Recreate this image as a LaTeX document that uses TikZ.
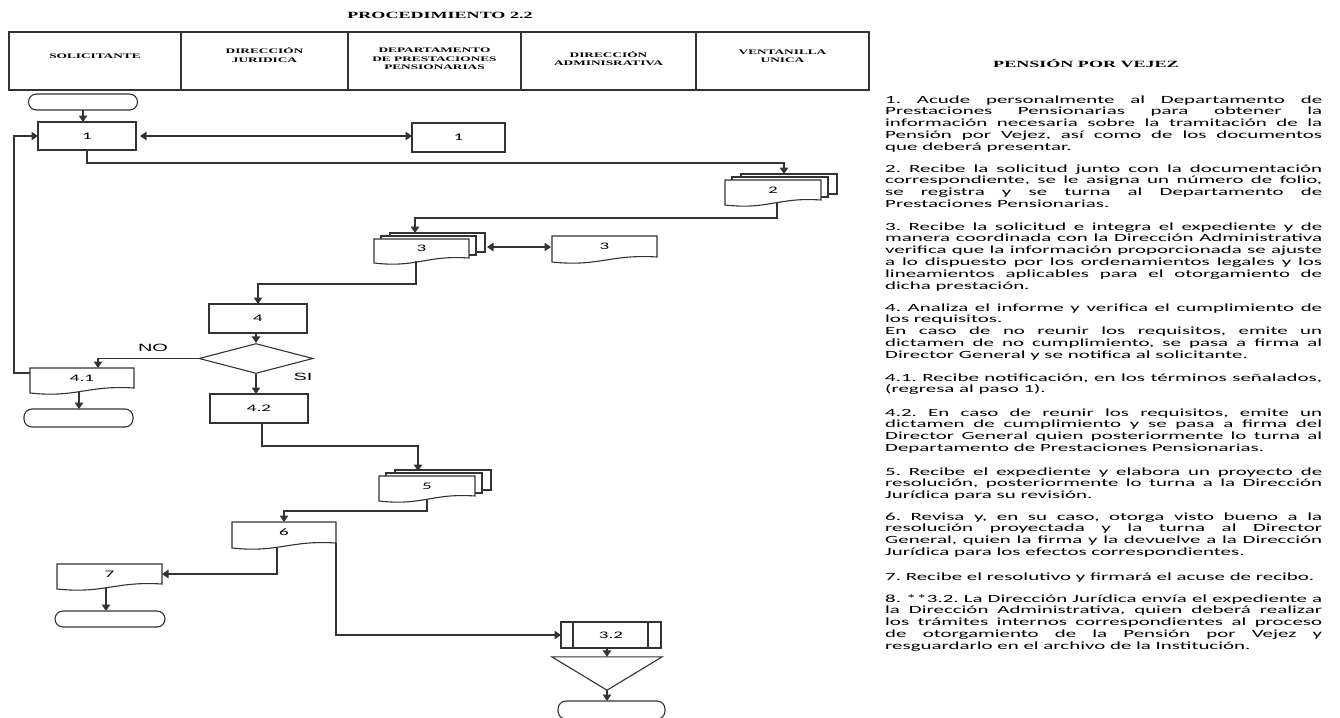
\documentclass[tikz,border=0pt]{standalone}
\usepackage{fontspec}
\usepackage{graphicx}
\usetikzlibrary{arrows.meta,calc,shapes.geometric}
\newfontfamily\calfont{Carlito}
\newfontfamily\tnr{Liberation Serif}
\newfontfamily\arl{Liberation Sans}
\frenchspacing
\newcommand\sx[1]{\scalebox{1.9}[1]{#1}}
\newcommand\J[1]{\makebox[230pt][s]{#1}\\}
\newcommand\para[1]{\sx{\parbox[t]{230pt}{\calfont\fontsize{11}{11.8}\selectfont\frenchspacing #1}}}
\newcommand\hdr[1]{\sx{\tnr\bfseries\fontsize{7}{8.5}\selectfont\begin{tabular}{@{}c@{}}#1\end{tabular}}}
\definecolor{lc}{HTML}{333333}
\pgfdeclarelayer{bg}
\pgfsetlayers{bg,main}
\newcommand\drawdoc[1]{\draw[shp] (#1.south east) -- (#1.north east) -- (#1.north west) -- ($(#1.south west)+(0,5)$) .. controls ($(#1.south west)!0.45!(#1.south east)+(0,10)$) and ($(#1.south west)!0.55!(#1.south east)+(0,-3)$) .. (#1.south east) -- cycle;}
\newcommand\drawmulti[1]{\draw[shp] ($(#1.north west)+(16,-6)$) rectangle ($(#1.south east)+(16,-6)$);
\draw[shp] ($(#1.north west)+(7,-3)$) rectangle ($(#1.south east)+(7,-3)$);
\drawdoc{#1}}
\begin{document}
\begin{tikzpicture}[x=1pt,y=-1pt,
  shp/.style={draw=lc,line width=1.1pt,fill=white},
  conn/.style={draw=lc,line width=1.1pt},
  arr/.style={-{Triangle[length=6.5pt,width=8.5pt]}},
  darr/.style={{Triangle[length=6.5pt,width=8.5pt]}-{Triangle[length=6.5pt,width=8.5pt]}},
  fn/.style={inner sep=0,outer sep=0,font=\calfont\fontsize{10}{12}\selectfont},
  rbox/.style={fn,draw=lc,line width=1.1pt},
  dbox/.style={fn},
  term/.style={inner sep=0,outer sep=0,draw=lc,line width=1.1pt,rounded corners=8pt},
  cell/.style={draw=lc,line width=1.4pt,inner sep=0,minimum height=58},
  desc/.style={inner sep=0,anchor=base west},
  lbl/.style={inner sep=0,font=\arl\fontsize{10.5}{12}\selectfont}]
\useasboundingbox (0,0) rectangle (1340,717);

% title and header
\node[inner sep=0] (title) at (440,15) {\sx{\tnr\bfseries\fontsize{9.5}{11}\selectfont PROCEDIMIENTO 2.2}};
\node[cell,minimum width=172] (h1) at (95,61) {};
\node[cell,minimum width=167] (h2) at (264.5,61) {};
\node[cell,minimum width=173] (h3) at (434.5,61) {};
\node[cell,minimum width=175] (h4) at (608.5,61) {};
\node[cell,minimum width=173] (h5) at (782.5,61) {};
\node[inner sep=0] (t1) at (95,57) {\hdr{SOLICITANTE}};
\node[inner sep=0] (t2) at (264.5,56.5) {\hdr{DIRECCIÓN\\JURIDICA}};
\node[inner sep=0] (t3) at (434.5,59.5) {\hdr{DEPARTAMENTO\\DE PRESTACIONES\\PENSIONARIAS}};
\node[inner sep=0] (t4) at (608.5,60) {\hdr{DIRECCIÓN\\ADMINISRATIVA}};
\node[inner sep=0] (t5) at (782.5,57) {\hdr{VENTANILLA\\UNICA}};

% flowchart nodes
\node[term,minimum width=109,minimum height=16] (start) at (83,102) {};
\node[rbox,minimum width=98,minimum height=28] (box1) at (87,136) {\sx{1}};
\node[rbox,minimum width=93,minimum height=29] (box1b) at (458.5,137.5) {\sx{1}};
\node[dbox,minimum width=96,minimum height=20] (doc2) at (773,190) {\sx{2}};
\node[dbox,minimum width=95,minimum height=19] (doc3) at (421.5,248.5) {\sx{3}};
\node[dbox,minimum width=105,minimum height=21] (doc3b) at (604.5,246.5) {\sx{3}};
\node[rbox,minimum width=98,minimum height=29] (box4) at (258,318.5) {\sx{4}};
\node[shape=diamond,draw=lc,line width=1.1pt,inner sep=0,minimum width=114,minimum height=30] (dia) at (256,358.5) {};
\node[dbox,minimum width=104,minimum height=20] (doc41) at (82,378) {\sx{4.1}};
\node[term,minimum width=109,minimum height=18] (end2) at (78.5,418) {};
\node[rbox,minimum width=98,minimum height=29] (box42) at (259,408.5) {\sx{4.2}};
\node[dbox,minimum width=96,minimum height=20] (doc5) at (427,486) {\sx{5}};
\node[dbox,minimum width=104,minimum height=21] (doc6) at (284,532.5) {\sx{6}};
\node[dbox,minimum width=105,minimum height=20] (doc7) at (109.5,574) {\sx{7}};
\node[term,minimum width=110,minimum height=16] (end3) at (110,619) {};
\node[rbox,minimum width=100,minimum height=26] (pp32) at (611,635) {\sx{3.2}};
\node[inner sep=0,minimum width=110,minimum height=33] (arch) at (607,673.5) {};
\node[term,minimum width=107,minimum height=18] (end4) at (611.5,710) {};

\begin{pgfonlayer}{bg}
\drawmulti{doc2}
\drawmulti{doc3}
\drawdoc{doc3b}
\drawdoc{doc41}
\drawmulti{doc5}
\drawdoc{doc6}
\drawdoc{doc7}
\end{pgfonlayer}
\draw[conn] ($(pp32.north west)+(12,0)$) -- ($(pp32.south west)+(12,0)$);
\draw[conn] ($(pp32.north east)+(-13,0)$) -- ($(pp32.south east)+(-13,0)$);
\draw[conn] (arch.north west) -- (arch.north east) -- (arch.south) -- cycle;

% connectors
\draw[conn,arr] (start.south) -- (start.south |- box1.north);
\draw[conn,darr] ($(box1.east)+(4,0)$) -- (box1.east -| box1b.west);
\draw[conn,arr] (box1.south) -- ++(0,13) -| ($(doc2.north)+(11,-6)$);
\draw[conn,arr] ($(doc2.south)+(4,3)$) -- ($(doc2.south)+(4,18)$) -| ($(doc3.north)+(-6.5,-6)$);
\draw[conn,darr] ($(doc3.east)+(18,-1.5)$) -- ($(doc3b.west)+(-1,0.5)$);
\draw[conn,arr] ($(doc3.south)+(-5.5,3)$) -- ($(doc3.south)+(-5.5,26)$) -| (box4.north);
\draw[conn,arr] (dia.north |- box4.south) -- (dia.north);
\draw[conn,arr] (dia.west) -| ($(doc41.north)+(16,0)$);
\node[lbl] (no) at (153,348) {\sx{NO}};
\draw[conn,arr] ($(doc41.west)+(0,-5)$) -- ++(-16,0) |- (box1.west);
\draw[conn,arr] ($(doc41.south)+(-3,3.5)$) -- ($(end2.north)+(0.5,0)$);
\draw[conn,arr] (dia.south) -- (dia.south |- box42.north);
\node[lbl] (si) at (303,377) {\sx{SI}};
\draw[conn,arr] ($(box42.south)+(3,0)$) -- ++(0,23) -| ($(doc5.north)+(-9,-5)$);
\draw[conn,arr] ($(doc5.south)+(0,3)$) -- ($(doc5.south)+(0,15)$) -| (doc6.north);
\draw[conn,arr] ($(doc6.south)+(-7,3.5)$) |- (doc7.east);
\draw[conn,arr] ($(doc7.south)+(-3.5,3.5)$) -- ($(end3.north)+(-4,0)$);
\draw[conn,arr] (doc6.south east) |- (pp32.west);
\draw[conn,arr] ($(pp32.south)+(-4,0)$) -- (arch.north);
\draw[conn,arr] (arch.south) -- (arch.south |- end4.north);

% description
\node[inner sep=0] (head) at (1086,63) {\sx{\tnr\bfseries\fontsize{9.5}{11}\selectfont PENSIÓN POR VEJEZ}};
\node[desc] (p1) at (885,103) {\para{\J{1. Acude personalmente al Departamento de}\J{Prestaciones Pensionarias para obtener la}\J{información necesaria sobre la tramitación de la}\J{Pensión por Vejez, así como de los documentos}que deberá presentar.}};
\node[desc] (p2) at (885,172) {\para{\J{2. Recibe la solicitud junto con la documentación}\J{correspondiente, se le asigna un número de folio,}\J{se registra y se turna al Departamento de}Prestaciones Pensionarias.}};
\node[desc] (p3) at (885,230) {\para{\J{3. Recibe la solicitud e integra el expediente y de}\J{manera coordinada con la Dirección Administrativa}\J{verifica que la información proporcionada se ajuste}\J{a lo dispuesto por los ordenamientos legales y los}\J{lineamientos aplicables para el otorgamiento de}dicha prestación.}};
\node[desc] (p4) at (885,311) {\para{\J{4. Analiza el informe y verifica el cumplimiento de}los requisitos.\\\J{En caso de no reunir los requisitos, emite un}\J{dictamen de no cumplimiento, se pasa a firma al}Director General y se notifica al solicitante.}};
\node[desc] (p41) at (885,381) {\para{\J{4.1. Recibe notificación, en los términos señalados,}(regresa al paso 1).}};
\node[desc] (p42) at (885,416) {\para{\J{4.2. En caso de reunir los requisitos, emite un}\J{dictamen de cumplimiento y se pasa a firma del}\J{Director General quien posteriormente lo turna al}Departamento de Prestaciones Pensionarias.}};
\node[desc] (p5) at (885,475) {\para{\J{5. Recibe el expediente y elabora un proyecto de}\J{resolución, posteriormente lo turna a la Dirección}Jurídica para su revisión.}};
\node[desc] (p6) at (885,520) {\para{\J{6. Revisa y, en su caso, otorga visto bueno a la}\J{resolución proyectada y la turna al Director}\J{General, quien la firma y la devuelve a la Dirección}Jurídica para los efectos correspondientes.}};
\node[desc] (p7) at (885,580) {\para{7. Recibe el resolutivo y firmará el acuse de recibo.}};
\node[desc] (p8) at (885,602) {\para{\J{8. **3.2. La Dirección Jurídica envía el expediente a}\J{la Dirección Administrativa, quien deberá realizar}\J{los trámites internos correspondientes al proceso}\J{de otorgamiento de la Pensión por Vejez y}resguardarlo en el archivo de la Institución.}};
\end{tikzpicture}
\end{document}
